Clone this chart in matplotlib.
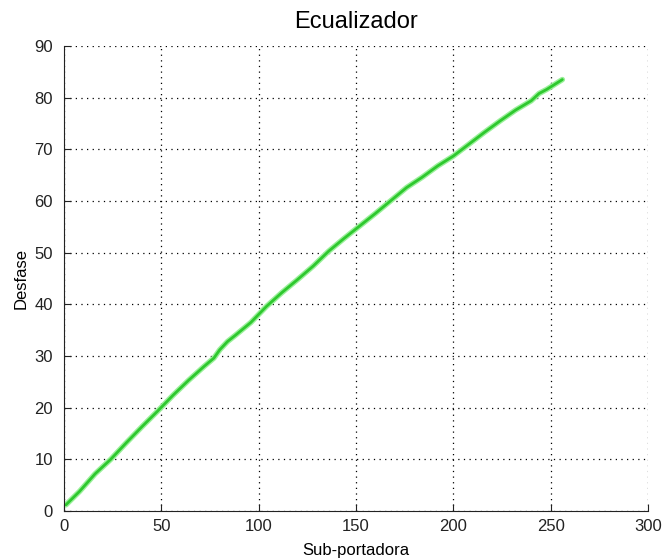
import matplotlib
matplotlib.use("Agg")
import matplotlib.pyplot as plt

plt.rcParams['font.family'] = ['Liberation Sans', 'DejaVu Sans']

subportadora = [1, 8, 16, 24, 32, 40, 48, 56, 64, 72, 77, 80, 84, 88, 96, 104, 112,
                120, 128, 136, 144, 152, 160, 168, 176, 184, 192, 200, 208, 216,
                224, 232, 240, 244, 248, 256]
desfase = [1.2, 3.8, 7.2, 10.0, 13.2, 16.3, 19.3, 22.4, 25.3, 28.0, 29.6, 31.2, 32.8,
           34.0, 36.5, 39.6, 42.3, 44.8, 47.4, 50.3, 52.8, 55.2, 57.6, 60.1,
           62.6, 64.6, 66.8, 68.7, 71.0, 73.3, 75.5, 77.6, 79.4, 80.8, 81.6, 83.5]

xticks = [0, 50, 100, 150, 200, 250, 300]
yticks = [0, 10, 20, 30, 40, 50, 60, 70, 80, 90]

fig = plt.figure(figsize=(6.62, 5.59), dpi=100)
ax = fig.add_axes([64/662, 48/559, 584/662, 465/559])

ax.plot(subportadora, desfase, color='#9af09a', linewidth=4.0, solid_capstyle='round')
ax.plot(subportadora, desfase, color='#2ec82e', linewidth=2.0, solid_capstyle='round')

ax.set_xlim(0, 300)
ax.set_ylim(0, 90)
ax.set_xticks(xticks)
ax.set_yticks(yticks)
ax.grid(True, linestyle=(0, (1, 3.5)), color='black', linewidth=0.9)
ax.spines['top'].set_visible(False)
ax.spines['right'].set_visible(False)
ax.tick_params(direction='in', length=5, labelsize=12, colors='#222222',
               top=False, right=False, pad=6)
ax.tick_params(axis='y', pad=8)
for s in ['left', 'bottom']:
    ax.spines[s].set_color('#222222')

ax.set_title('Ecualizador', fontsize=17, pad=13)
ax.set_xlabel('Sub-portadora', fontsize=12, labelpad=6)
ax.set_ylabel('Desfase', fontsize=12, labelpad=4)

fig.savefig('out.png', dpi=100, facecolor='white')
